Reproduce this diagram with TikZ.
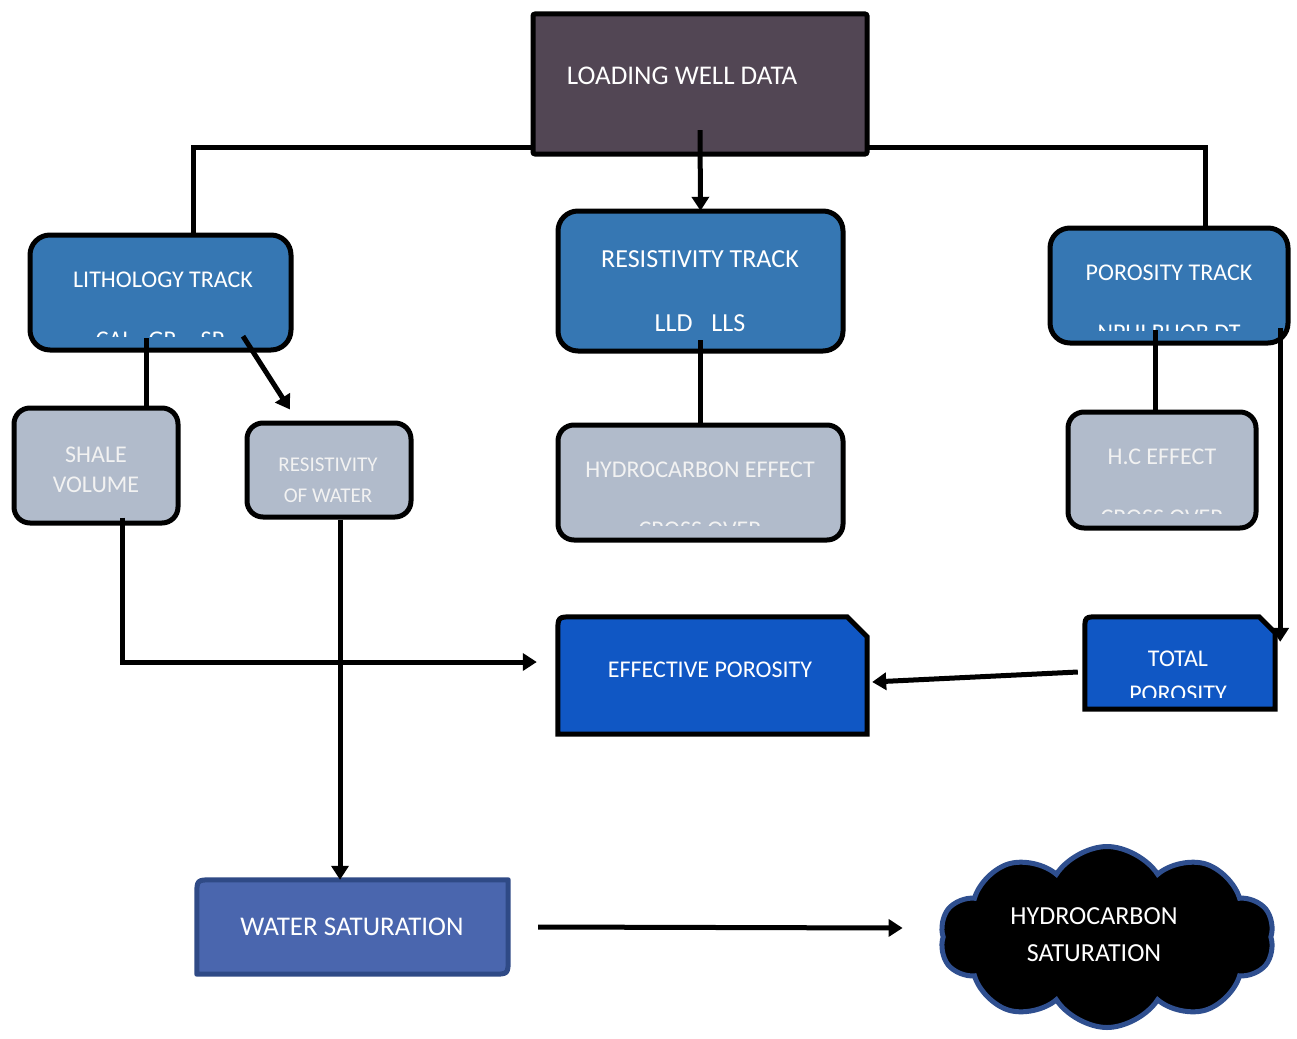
\documentclass[tikz,border=0pt]{standalone}
\usepackage{fontspec}
\setmainfont{Carlito}
\usetikzlibrary{arrows.meta,shapes.symbols}
\definecolor{loadc}{RGB}{82,70,84}
\definecolor{trackc}{RGB}{54,119,179}
\definecolor{greyc}{RGB}{177,187,203}
\definecolor{effc}{RGB}{16,87,196}
\definecolor{wsc}{RGB}{74,102,174}
\definecolor{wsb}{RGB}{47,74,134}
\definecolor{cloudb}{RGB}{47,79,143}
\definecolor{greytext}{RGB}{242,242,242}
\begin{document}
\begin{tikzpicture}[x=1pt,y=-1pt,
  conn/.style={line width=5pt},
  arr/.style={line width=5pt,-{Triangle[length=14pt,width=17pt]}},
  loadbox/.style={draw=black,line width=5pt,fill=loadc,rounded corners=2pt,inner sep=0pt},
  track/.style={draw=black,line width=5pt,fill=trackc,rounded corners=20pt,inner sep=0pt},
  greybox/.style={draw=black,line width=5pt,fill=greyc,rounded corners=16pt,inner sep=0pt},
  plainbox/.style={inner sep=0pt},
  txt/.style={text=white,inner sep=0pt,font=\fontsize{24}{30}\selectfont,align=center},
  bigtxt/.style={txt,font=\fontsize{26}{37}\selectfont},
  hugetxt/.style={txt,font=\fontsize{27}{37}\selectfont},
  smalltxt/.style={txt,text=greytext,font=\fontsize{21}{31}\selectfont},
  gtxt/.style={txt,text=greytext},
  cuttxt/.style={anchor=base}]
\useasboundingbox (0,0) rectangle (1297,1038);

% node frames (positions)
\node[plainbox,minimum width=334pt,minimum height=140pt] (load) at (700,84) {};
\node[plainbox,minimum width=261pt,minimum height=115pt] (lith) at (160.5,292.5) {};
\node[plainbox,minimum width=285pt,minimum height=140pt] (res) at (700.5,281) {};
\node[plainbox,minimum width=238pt,minimum height=115pt] (por) at (1169,285.5) {};

% distribution line behind the top box
\draw[conn] ([xshift=32.5pt]lith.north) |- ([yshift=7pt]load.south) -| ([xshift=36pt]por.north);

% boxes
\node[loadbox,minimum width=334pt,minimum height=140pt] at (load.center) {};
\node[track,minimum width=261pt,minimum height=115pt] at (lith.center) {};
\node[track,minimum width=285pt,minimum height=140pt] at (res.center) {};
\node[track,minimum width=238pt,minimum height=115pt] at (por.center) {};
\node[greybox,minimum width=164pt,minimum height=115pt] (shale) at (96,465.5) {};
\node[greybox,minimum width=164pt,minimum height=94pt] (rw) at (329,470) {};
\node[greybox,minimum width=285pt,minimum height=115pt] (hce) at (700.5,482.5) {};
\node[greybox,minimum width=188pt,minimum height=116pt] (hc) at (1162,470) {};
\node[plainbox,minimum width=309pt,minimum height=117pt] (eff) at (712.5,675.5) {};
\node[plainbox,minimum width=190pt,minimum height=92pt] (tot) at (1180,663) {};
\node[plainbox,minimum width=311pt,minimum height=94pt] (ws) at (352.5,927) {};
\node[cloud,cloud puffs=10,cloud puff arc=115,aspect=1.8,inner sep=0pt,
      minimum width=334pt,minimum height=181pt,fill=black,draw=cloudb,line width=5pt] (cloud) at (1107,937) {};

% snipped / partly rounded shapes
\draw[line width=5pt,fill=effc] (eff.south west) -- ([yshift=-16pt]eff.north west)
  .. controls (eff.north west) .. ([xshift=16pt]eff.north west)
  -- ([xshift=-20pt]eff.north east) -- ([yshift=-20pt]eff.north east) -- (eff.south east) -- cycle;
\draw[line width=5pt,fill=effc] (tot.south west) -- ([yshift=-14pt]tot.north west)
  .. controls (tot.north west) .. ([xshift=14pt]tot.north west)
  -- ([xshift=-16pt]tot.north east) -- ([yshift=-16pt]tot.north east) -- (tot.south east) -- cycle;
\draw[line width=5pt,draw=wsb,fill=wsc,line join=round] (ws.north east) -- ([yshift=16pt]ws.south east)
  .. controls (ws.south east) .. ([xshift=-16pt]ws.south east) -- (ws.south west)
  -- ([yshift=-16pt]ws.north west) .. controls (ws.north west) .. ([xshift=16pt]ws.north west) -- cycle;

% texts
\node[hugetxt] (tload) at (682,76) {LOADING WELL DATA};
\node[txt] (tlith) at (163,280) {LITHOLOGY TRACK};
\node[bigtxt] (tres) at (700,259) {RESISTIVITY TRACK};
\node[bigtxt] (tres2) at (700,323) {LLD\hspace{19pt}LLS};
\node[txt] (tpor) at (1169,273) {POROSITY TRACK};
\node[gtxt] (tshale) at (96,469.5) {SHALE\\VOLUME};
\node[smalltxt] (trw) at (328,480.5) {RESISTIVITY\\OF WATER};
\node[gtxt] (thce) at (700,470) {HYDROCARBON EFFECT};
\node[gtxt] (thc) at (1162,457) {H.C EFFECT};
\node[txt] (teff) at (710,670) {EFFECTIVE POROSITY};
\node[txt] (ttot) at (1178,659) {TOTAL};
\node[hugetxt] (tws) at (352,927) {WATER SATURATION};
\node[bigtxt] (tcloud) at (1094,934.5) {HYDROCARBON\\SATURATION};

% texts cut off by their boxes
\begin{scope}
  \clip (30,300) rectangle (290,336);
  \node[txt,cuttxt] (tlith2) at (160,347.5) {CAL\hspace{16pt}GR\hspace{24pt}SP};
\end{scope}
\begin{scope}
  \clip (1050,300) rectangle (1288,330);
  \node[txt,cuttxt] (tpor2) at (1169,340.5) {NPHI RHOB DT};
\end{scope}
\begin{scope}
  \clip (560,500) rectangle (840,525);
  \node[gtxt,cuttxt] (thce2) at (700,537.5) {CROSS OVER};
\end{scope}
\begin{scope}
  \clip (1070,490) rectangle (1255,513);
  \node[gtxt,cuttxt] (thc2) at (1162,525.5) {CROSS OVER};
\end{scope}
\begin{scope}
  \clip (1086,670) rectangle (1274,697);
  \node[txt,cuttxt] (ttot2) at (1178,701.5) {POROSITY};
\end{scope}

% connectors
\draw[arr] ([yshift=24pt]load.south) -- (res.north);
\draw[conn] ([xshift=-14.5pt,yshift=12pt]lith.south) -- ([xshift=-14.5pt]lith.south |- shale.north);
\draw[arr] ([xshift=82.5pt,yshift=14pt]lith.south) -- ([xshift=-39pt,yshift=11pt]rw.north);
\draw[conn] ([yshift=11pt]res.south) -- (hce.north);
\draw[conn] ([xshift=-14pt,yshift=13pt]por.south) -- ([xshift=-14pt]por.south |- hc.north);
\draw[arr] ([xshift=-8pt,yshift=15pt]por.south east) -- ([xshift=5pt,yshift=-25pt]tot.north east);
\draw[arr] ([xshift=26pt,yshift=8pt]shale.south) |- ([xshift=-21pt,yshift=13.5pt]eff.west);
\draw[arr] ([xshift=11pt]rw.south) -- ([xshift=11pt]rw.south |- ws.north);
\draw[arr] ([xshift=-7pt,yshift=-9pt]tot.west) -- ([xshift=5pt,yshift=-6.5pt]eff.east);
\draw[arr] ([xshift=30pt]ws.east) -- ([xshift=-38pt,yshift=9pt]cloud.west);
\end{tikzpicture}
\end{document}
